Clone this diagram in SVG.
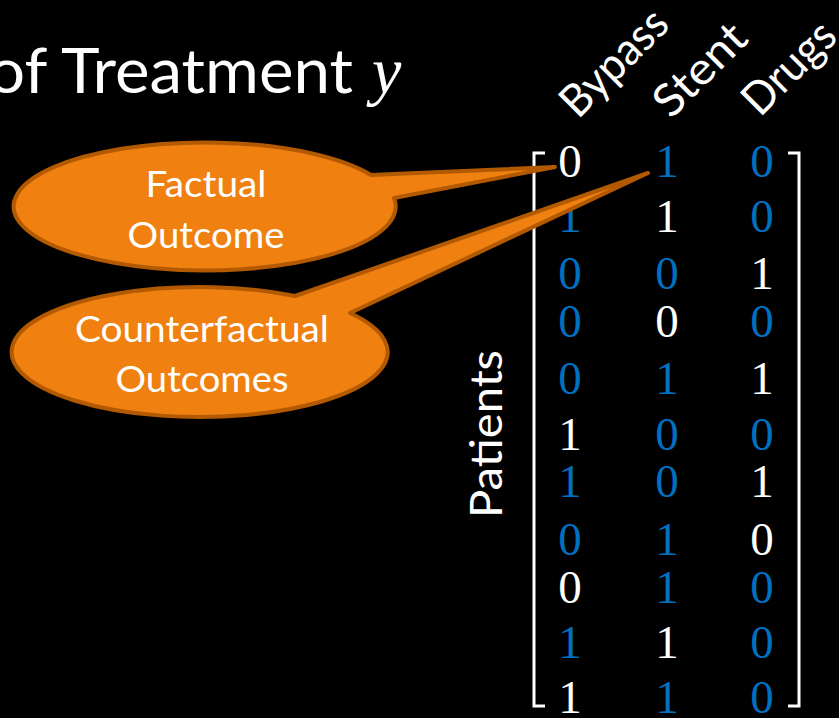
<svg xmlns="http://www.w3.org/2000/svg" width="839" height="718" viewBox="0 0 839 718">
<style>
.sans{font-family:Lato,"Open Sans","Liberation Sans",sans-serif;fill:#fff}
.num{font-family:"Liberation Serif","DejaVu Serif",serif;font-size:47px;text-anchor:middle}
.w{fill:#fff}.b{fill:#0070C0}
.br{fill:none;stroke:#fff;stroke-width:3}
.co{fill:#F08010;stroke:#B35A00;stroke-width:4;stroke-linejoin:round}
.ct{font-size:36px;text-anchor:middle}
</style>
<rect width="839" height="718" fill="#000"/>
<g id="title">
<text class="sans" x="-12" y="93" font-size="62" textLength="365" lengthAdjust="spacingAndGlyphs">of Treatment</text>
<text x="372" y="93" font-family="Liberation Serif,serif" font-style="italic" font-size="66" fill="#fff">y</text>
</g>
<g id="headers" class="sans" font-size="45">
<text transform="translate(578,120) rotate(-45)" textLength="132" lengthAdjust="spacingAndGlyphs">Bypass</text>
<text transform="translate(671,120) rotate(-45)" textLength="112" lengthAdjust="spacingAndGlyphs">Stent</text>
<text transform="translate(760,118) rotate(-45)" textLength="112" lengthAdjust="spacingAndGlyphs">Drugs</text>
</g>
<g id="patients">
<text class="sans" transform="translate(502,518) rotate(-90)" font-size="44" textLength="168" lengthAdjust="spacingAndGlyphs">Patients</text>
</g>
<g id="matrix" class="num">
<polyline class="br" points="545,153 534,153 534,706 545,706"/>
<polyline class="br" points="788,153 799,153 799,706 788,706"/>
<text x="570" y="177" class="w">0</text><text x="667" y="177" class="b">1</text><text x="762" y="177" class="b">0</text>
<text x="570" y="232" class="b">1</text><text x="667" y="232" class="w">1</text><text x="762" y="232" class="b">0</text>
<text x="570" y="289" class="b">0</text><text x="667" y="289" class="b">0</text><text x="762" y="289" class="w">1</text>
<text x="570" y="337" class="b">0</text><text x="667" y="337" class="w">0</text><text x="762" y="337" class="b">0</text>
<text x="570" y="394" class="b">0</text><text x="667" y="394" class="b">1</text><text x="762" y="394" class="w">1</text>
<text x="570" y="450" class="w">1</text><text x="667" y="450" class="b">0</text><text x="762" y="450" class="b">0</text>
<text x="570" y="497" class="b">1</text><text x="667" y="497" class="b">0</text><text x="762" y="497" class="w">1</text>
<text x="570" y="555" class="b">0</text><text x="667" y="555" class="b">1</text><text x="762" y="555" class="w">0</text>
<text x="570" y="603" class="w">0</text><text x="667" y="603" class="b">1</text><text x="762" y="603" class="b">0</text>
<text x="570" y="658" class="b">1</text><text x="667" y="658" class="w">1</text><text x="762" y="658" class="b">0</text>
<text x="570" y="713" class="w">1</text><text x="667" y="713" class="b">1</text><text x="762" y="713" class="b">0</text>
</g>
<g id="factual">
<path class="co" d="M394 198 A191 64 0 1 1 371 175 L555 167 Z"/>
<text class="sans ct" x="206" y="197" textLength="121" lengthAdjust="spacingAndGlyphs">Factual</text>
<text class="sans ct" x="206" y="248" textLength="157" lengthAdjust="spacingAndGlyphs">Outcome</text>
</g>
<g id="counterfactual">
<path class="co" d="M350 313 A188 65 0 1 1 295 296 L648 173 Z"/>
<text class="sans ct" x="202" y="342" textLength="254" lengthAdjust="spacingAndGlyphs">Counterfactual</text>
<text class="sans ct" x="202" y="392" textLength="173" lengthAdjust="spacingAndGlyphs">Outcomes</text>
</g>
</svg>
